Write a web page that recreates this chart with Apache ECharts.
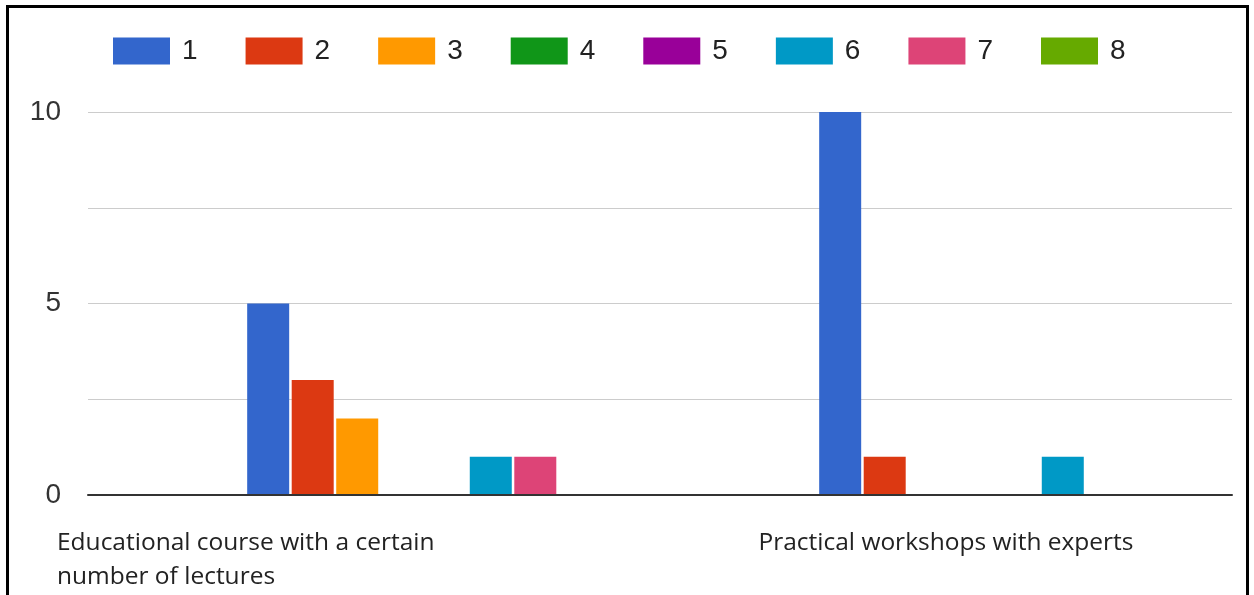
<!DOCTYPE html>
<html>
<head>
<meta charset="utf-8">
<script src="https://cdn.jsdelivr.net/npm/echarts@6/dist/echarts.min.js"></script>
<style>
  html, body { margin: 0; padding: 0; background: #fff; }
  #chart { position: absolute; left: 0; top: 0; width: 1254px; height: 595px; }
  #frame { position: absolute; left: 6px; top: 5px; width: 1237px; height: 620px; border: 3px solid #000; pointer-events: none; }
</style>
</head>
<body>
<div id="chart"></div>
<div id="frame"></div>
<script>
const categories = [
  "Educational course with a certain number of lectures",
  "Practical workshops with experts",
];
const seriesNames = ["1", "2", "3", "4", "5", "6", "7", "8"];
const s1 = [5, 10];
const s2 = [3, 1];
const s3 = [2, 0];
const s4 = [0, 0];
const s5 = [0, 0];
const s6 = [1, 1];
const s7 = [1, 0];
const s8 = [0, 0];
const values = [s1, s2, s3, s4, s5, s6, s7, s8];
const colors = ["#3366cc", "#dc3912", "#ff9900", "#109618", "#990099", "#0099c6", "#dd4477", "#66aa00"];

// simple word wrap for the long category name
function wrap(text, maxChars) {
  const lines = [];
  let cur = "";
  text.split(" ").forEach((w) => {
    if (cur && (cur + " " + w).length > maxChars) {
      lines.push(cur);
      cur = w;
    } else {
      cur = cur ? cur + " " + w : w;
    }
  });
  if (cur) lines.push(cur);
  return lines.join("\n");
}

const chart = echarts.init(document.getElementById("chart"));

const option = {
  animation: false,
  color: colors,
  legend: {
    data: seriesNames,
    left: 108,
    top: 32,
    icon: "rect",
    itemWidth: 57,
    itemHeight: 27,
    itemGap: 48,
    textStyle: {
      fontFamily: "Liberation Sans, Arial, sans-serif",
      fontSize: 28,
      color: "#222",
      padding: [0, 0, 0, 7],
    },
  },
  grid: [
    // axes, gridlines and labels
    { left: 88, right: 22, top: 112, bottom: 100, outerBoundsMode: "none" },
    // bars sit a bit to the right of the category centres, like the original
    { left: 138, width: 1144, top: 112, bottom: 100, outerBoundsMode: "none" },
  ],
  xAxis: [
    {
      type: "category",
      gridIndex: 0,
      data: categories.map((c, i) =>
        i === 0 ? { value: c, textStyle: { align: "left", padding: [0, 0, 0, -317] } } : c
      ),
      axisLine: { lineStyle: { color: "#333", width: 2 } },
      axisTick: { show: false },
      axisLabel: {
        interval: 0,
        margin: 31,
        lineHeight: 34,
        fontFamily: "Open Sans, sans-serif",
        fontSize: 24.5,
        color: "#222",
        formatter: (v) => wrap(v, 34),
      },
      z: 10,
    },
    {
      type: "category",
      gridIndex: 1,
      data: categories,
      show: false,
    },
  ],
  yAxis: [
    {
      type: "value",
      gridIndex: 0,
      min: 0,
      max: 10,
      interval: 2.5,
      axisLine: { show: false },
      axisTick: { show: false },
      splitLine: { lineStyle: { color: "#cccccc", width: 1 } },
      axisLabel: {
        margin: 27,
        fontFamily: "Liberation Sans, Arial, sans-serif",
        fontSize: 28,
        color: "#333",
        formatter: (v) => (v % 5 === 0 ? String(v) : ""),
      },
    },
    {
      type: "value",
      gridIndex: 1,
      min: 0,
      max: 10,
      show: false,
    },
  ],
  series: seriesNames.map((name, i) => ({
    type: "bar",
    name: name,
    xAxisIndex: 1,
    yAxisIndex: 1,
    data: values[i],
    barWidth: 42,
    barGap: "6%",
    itemStyle: { color: colors[i] },
  })),
};

chart.setOption(option);
</script>
</body>
</html>
